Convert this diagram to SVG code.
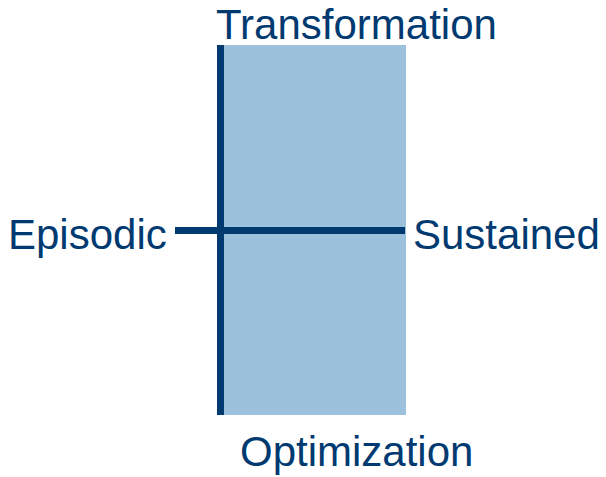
<svg xmlns="http://www.w3.org/2000/svg" width="606" height="477" viewBox="0 0 606 477">
<style>
.lbl{font-family:"Liberation Sans",Arial,sans-serif;font-size:42px;fill:#003a70}
.ax{stroke:#003a70;stroke-width:7;fill:none}
</style>
<rect width="606" height="477" fill="#fff"/>
<g id="zone"><rect x="220" y="45" width="186" height="370" fill="#9bc1dc"/></g>
<g id="connectors">
<line class="ax" x1="220.5" y1="45" x2="220.5" y2="415"/>
<line class="ax" x1="175" y1="230.5" x2="405" y2="230.5"/>
</g>
<g id="transformation"><text class="lbl" x="216" y="38.5">Transformation</text></g>
<g id="optimization"><text class="lbl" x="240" y="466">Optimization</text></g>
<g id="episodic"><text class="lbl" x="8" y="249">Episodic</text></g>
<g id="sustained"><text class="lbl" x="413" y="249">Sustained</text></g>
</svg>
